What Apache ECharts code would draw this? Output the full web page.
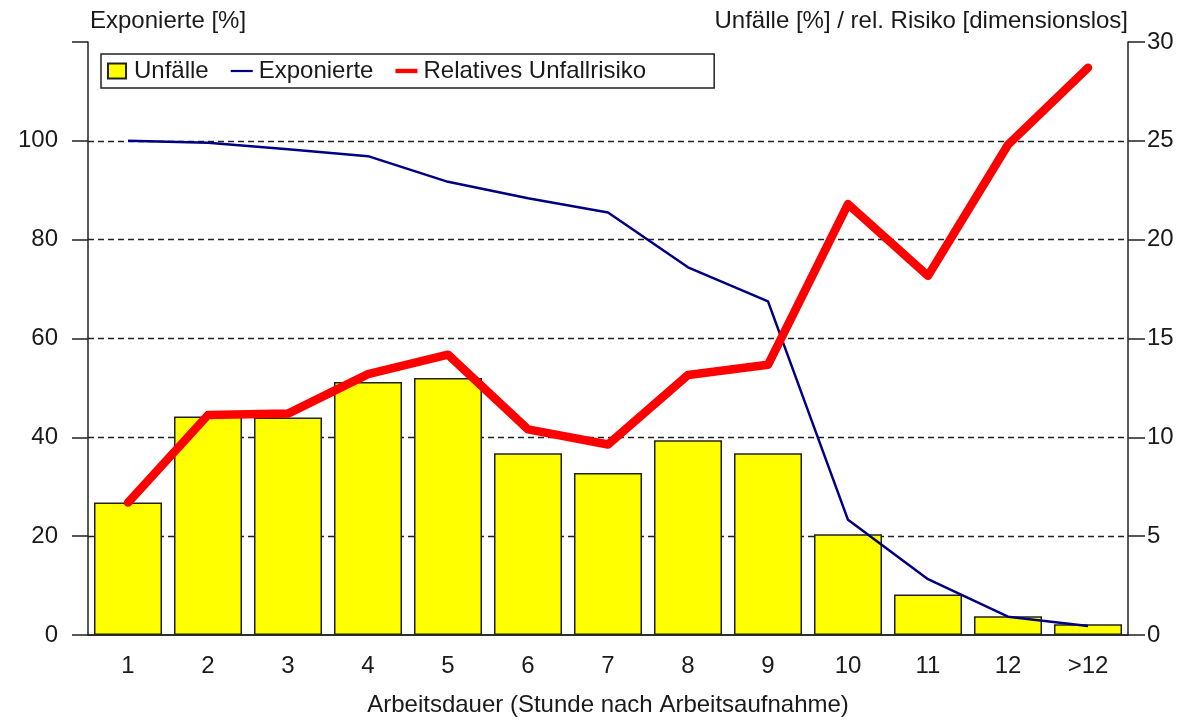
<!DOCTYPE html>
<html>
<head>
<meta charset="utf-8">
<script src="https://cdn.jsdelivr.net/npm/echarts@6/dist/echarts.min.js"></script>
<style>
  html, body { margin: 0; padding: 0; background: #fff; }
  #view { width: 1196px; height: 722px; }
</style>
</head>
<body>
<div id="view"></div>
<script>
var hours = ['1', '2', '3', '4', '5', '6', '7', '8', '9', '10', '11', '12', '>12'];
// Unfälle [%] (right axis)
var unfaelle = [6.7, 11.05, 11.0, 12.8, 13.0, 9.2, 8.2, 9.85, 9.2, 5.1, 2.05, 0.95, 0.55];
// Exponierte [%] (left axis)
var exponierte = [100, 99.6, 98.3, 96.9, 91.7, 88.4, 85.5, 74.4, 67.5, 23.3, 11.3, 3.7, 1.8];
// Relatives Unfallrisiko (right axis)
var risiko = [6.7, 11.13, 11.2, 13.2, 14.18, 10.4, 9.64, 13.15, 13.67, 21.8, 18.17, 24.8, 28.7];

var font = 'Liberation Sans, Arial, sans-serif';
var ink = '#1a1a1a';
var fs = 24;

var myChart = echarts.init(document.getElementById('view'));

var option = {
    animation: false,
    backgroundColor: '#fff',
    textStyle: { fontFamily: font, color: ink },
    grid: { left: 88, right: 68, top: 42, bottom: 87, outerBoundsMode: 'none', containLabel: false },
    legend: {
        left: 101,
        top: 54,
        orient: 'horizontal',
        borderColor: '#222',
        borderWidth: 1.5,
        padding: [5, 68, 5, 6],
        itemWidth: 22,
        itemHeight: 15,
        itemGap: 22,
        textStyle: { fontSize: fs, color: ink, padding: [0, 0, 0, 1] },
        data: [
            { name: 'Unfälle', icon: 'path://M0,0 L18,0 L18,15 L0,15 Z' },
            { name: 'Exponierte', icon: 'path://M0,0 L30,0 L30,3 L0,3 Z' },
            { name: 'Relatives Unfallrisiko', icon: 'path://M0,0 L30,0 L30,6 L0,6 Z' }
        ]
    },
    xAxis: [{
        type: 'category',
        data: hours,
        boundaryGap: true,
        name: 'Arbeitsdauer (Stunde nach Arbeitsaufnahme)',
        nameLocation: 'middle',
        nameGap: 58,
        nameTextStyle: { fontSize: fs, color: ink },
        axisLine: { lineStyle: { color: '#222', width: 1.5 } },
        axisTick: { show: false },
        axisLabel: { fontSize: fs, color: ink, margin: 19 }
    }, {
        type: 'category',
        data: hours,
        position: 'top',
        axisLine: { show: true, lineStyle: { color: '#222', width: 1.5 } },
        axisTick: { show: false },
        axisLabel: { show: false }
    }],
    yAxis: [{
        type: 'value',
        position: 'left',
        min: 0,
        max: 120,
        interval: 20,
        name: 'Exponierte [%]',
        nameLocation: 'end',
        nameGap: 9,
        nameTextStyle: { fontSize: fs, color: ink, align: 'left', padding: [0, 0, 0, 2] },
        axisLine: { show: true, lineStyle: { color: '#222', width: 1.5 } },
        axisTick: { show: true, length: 16, lineStyle: { color: '#222', width: 1.5 } },
        axisLabel: {
            fontSize: fs, color: ink, margin: 30,
            formatter: function (v) { return v === 120 ? '' : v; }
        },
        splitLine: {
            show: true, showMinLine: false, showMaxLine: false,
            lineStyle: { color: '#222', type: [6, 4], width: 1.3 }
        }
    }, {
        type: 'value',
        position: 'right',
        min: 0,
        max: 30,
        interval: 5,
        name: 'Unfälle [%] / rel. Risiko [dimensionslos]',
        nameLocation: 'end',
        nameGap: 9,
        nameTextStyle: { fontSize: fs, color: ink, align: 'right' },
        axisLine: { show: true, lineStyle: { color: '#222', width: 1.5 } },
        axisTick: { show: true, length: 17, lineStyle: { color: '#222', width: 1.5 } },
        axisLabel: { fontSize: fs, color: ink, margin: 19 },
        splitLine: { show: false }
    }],
    series: [{
        name: 'Unfälle',
        type: 'bar',
        yAxisIndex: 1,
        data: unfaelle,
        barCategoryGap: '15%',
        itemStyle: { color: '#ffff00', borderColor: '#222', borderWidth: 1.5 }
    }, {
        name: 'Exponierte',
        type: 'line',
        yAxisIndex: 0,
        data: exponierte,
        symbol: 'none',
        color: '#000080',
        lineStyle: { color: '#000080', width: 2.5 }
    }, {
        name: 'Relatives Unfallrisiko',
        type: 'line',
        yAxisIndex: 1,
        data: risiko,
        symbol: 'none',
        color: '#ff0000',
        lineStyle: { color: '#ff0000', width: 8.5, cap: 'round', join: 'round' }
    }]
};

myChart.setOption(option);
</script>
</body>
</html>
